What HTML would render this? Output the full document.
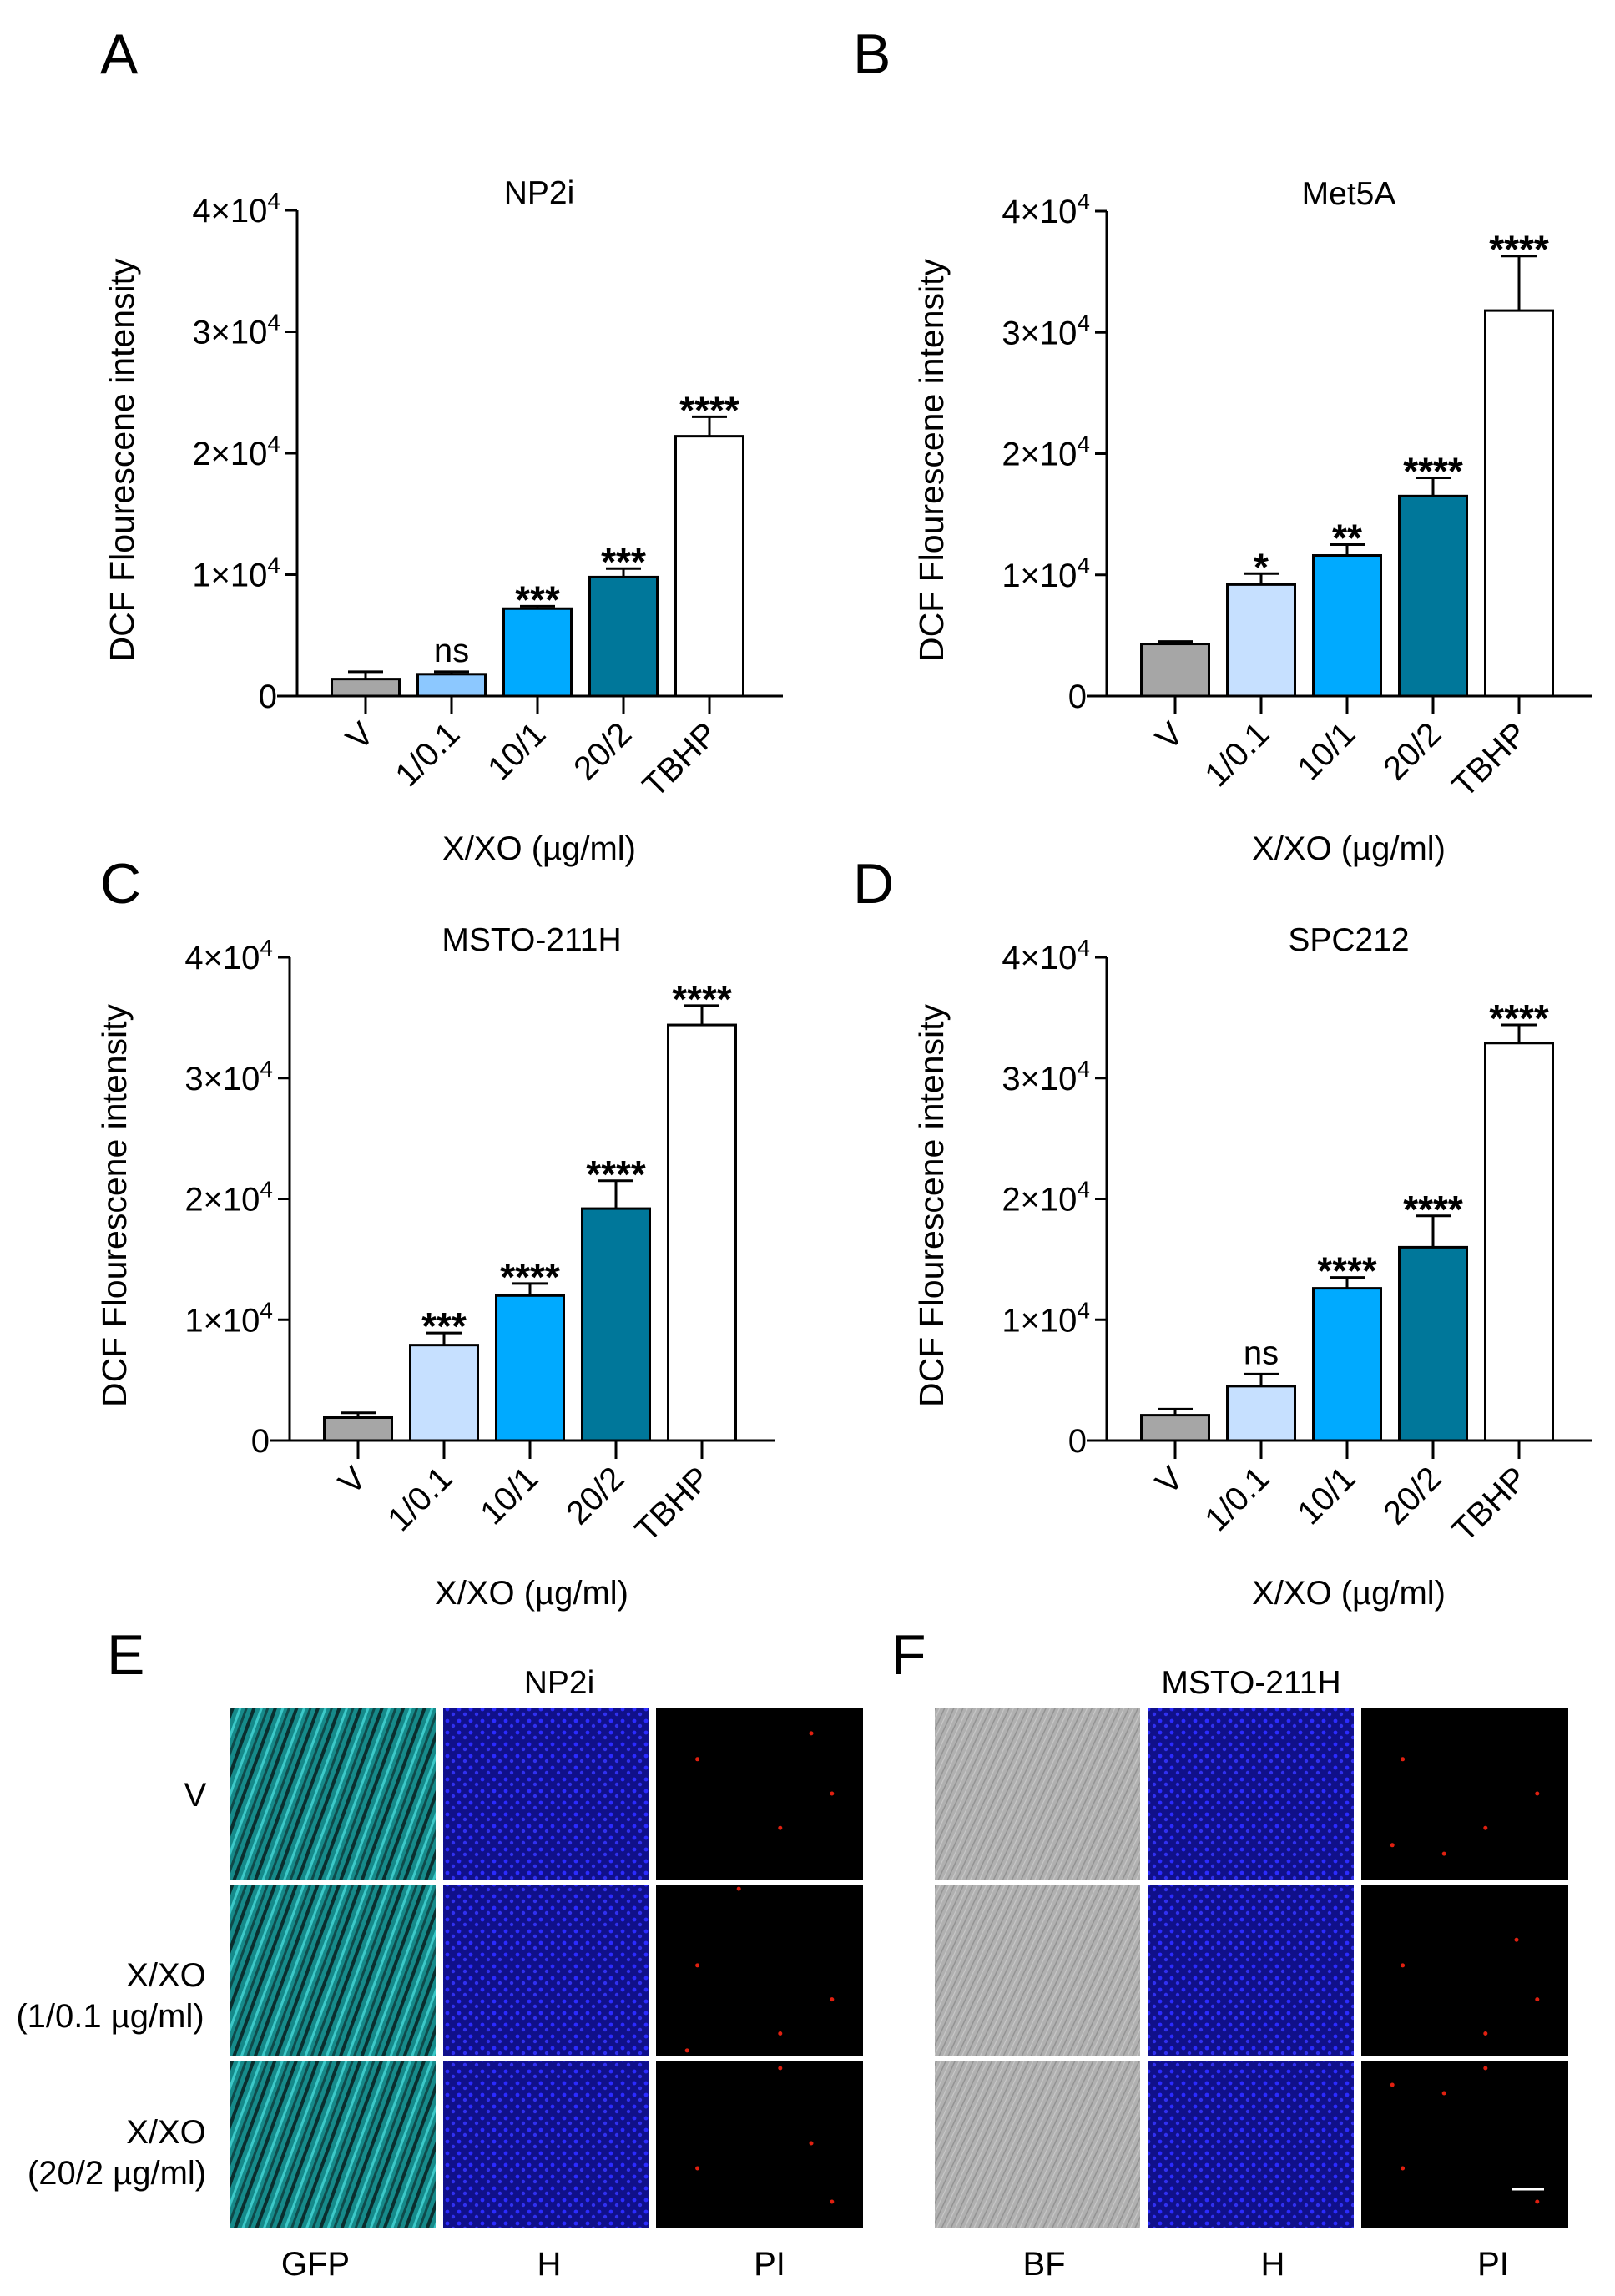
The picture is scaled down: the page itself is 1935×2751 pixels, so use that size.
<!DOCTYPE html>
<html><head><meta charset="utf-8">
<style>
html,body{margin:0;padding:0;background:#fff;}
svg{display:block;font-family:"Liberation Sans",Arial,sans-serif;}
</style></head>
<body>
<svg id="fig" width="1935" height="2751" viewBox="0 0 1935 2751" xmlns="http://www.w3.org/2000/svg">
<defs>
<pattern id="pCyan" width="24" height="24" patternUnits="userSpaceOnUse" patternTransform="rotate(-70)">
<rect width="24" height="24" fill="#168a8a"/>
<rect x="0" y="0" width="24" height="4" fill="#0a2e2e"/>
<rect x="0" y="9" width="24" height="3" fill="#3cc8c8"/>
<rect x="0" y="16" width="24" height="3" fill="#0f4a4a"/>
</pattern>
<pattern id="pBlue" width="14" height="14" patternUnits="userSpaceOnUse">
<rect width="14" height="14" fill="#10108a"/>
<circle cx="4" cy="4" r="2.4" fill="#2b2bff"/>
<circle cx="11" cy="10" r="2.2" fill="#3030f0"/>
</pattern>
<pattern id="pGray" width="10" height="10" patternUnits="userSpaceOnUse" patternTransform="rotate(-65)">
<rect width="10" height="10" fill="#b0b0b0"/>
<rect x="0" y="0" width="10" height="1.5" fill="#939393"/>
<rect x="0" y="5" width="10" height="1.2" fill="#c8c8c8"/>
</pattern>
</defs>
<g id="charts"></g>
<g id="micro"></g>
</svg>
<script>
const NS="http://www.w3.org/2000/svg";
const categories=["V","1/0.1","10/1","20/2","TBHP"];
const titles=["NP2i","Met5A","MSTO-211H","SPC212"];
const valuesA=[1400,1800,7200,9800,21400];
const errA=[2000,2000,7400,10500,23000];
const starsA=["","ns","***","***","****"];
const valuesB=[4300,9200,11600,16500,31800];
const errB=[4500,10100,12500,18000,36300];
const starsB=["","*","**","****","****"];
const valuesC=[1900,7900,12000,19200,34400];
const errC=[2300,8900,13000,21500,36000];
const starsC=["","***","****","****","****"];
const valuesD=[2100,4500,12600,16000,32900];
const errD=[2600,5500,13500,18600,34400];
const starsD=["","ns","****","****","****"];
const yTicks=[0,10000,20000,30000,40000];
const yTickMant=["0","1","2","3","4"];
const panelLetters=["A","B","C","D"];

const panels=[
 {ax:356,top:252,bot:834,colors:["#a6a6a6","#8cc8ff","#00aaff","#00779a","#ffffff"],v:valuesA,e:errA,s:starsA},
 {ax:1326,top:253,bot:834,colors:["#a6a6a6","#c6e0ff","#00aaff","#00779a","#ffffff"],v:valuesB,e:errB,s:starsB},
 {ax:347,top:1147,bot:1726,colors:["#a6a6a6","#c6e0ff","#00aaff","#00779a","#ffffff"],v:valuesC,e:errC,s:starsC},
 {ax:1326,top:1147,bot:1726,colors:["#a6a6a6","#c6e0ff","#00aaff","#00779a","#ffffff"],v:valuesD,e:errD,s:starsD}
];
const letterPos=[[120,88],[1022,88],[120,1082],[1022,1082]];
const root=document.getElementById('charts');
function mk(tag,attrs,parent){const el=document.createElementNS(NS,tag);for(const k in attrs)el.setAttribute(k,attrs[k]);(parent||root).appendChild(el);return el;}

panels.forEach((p,pi)=>{
 const g=mk('g',{});
 
 
 const y=v=>p.bot-(v/40000)*(p.bot-p.top);
 const x=i=>p.ax+82+i*103;
 const bw=81;
 const L=mk('text',{x:letterPos[pi][0],y:letterPos[pi][1],'font-size':68},g);L.textContent=panelLetters[pi];
 
 const t=mk('text',{x:p.ax+290,y:p.top-8,'font-size':39,'text-anchor':'middle'},g);t.textContent=titles[pi];
 
 mk('line',{x1:p.ax,y1:p.top,x2:p.ax,y2:p.bot,stroke:'#000','stroke-width':3},g);
 mk('line',{x1:p.ax-24,y1:p.bot,x2:p.ax+582,y2:p.bot,stroke:'#000','stroke-width':3},g);
 yTicks.forEach((tv,ti)=>{
  mk('line',{x1:p.ax-14,y1:y(tv),x2:p.ax,y2:y(tv),stroke:'#000','stroke-width':3},g);
  const tl=mk('text',{x:p.ax-24,y:y(tv)+14,'font-size':40,'text-anchor':'end'},g);
  
  if(tv===0){tl.textContent='0';}else{
   const a=document.createElementNS(NS,'tspan');a.textContent=yTickMant[ti]+'×10';tl.appendChild(a);
   const b=document.createElementNS(NS,'tspan');b.setAttribute('dy','-16');b.setAttribute('font-size','28');b.textContent='4';tl.appendChild(b);
   tl.setAttribute('x',p.ax-20);
  }
 });
 const yt=mk('text',{transform:`translate(${p.ax-196},${(p.top+p.bot)/2+8}) rotate(-90)`,'font-size':41,'text-anchor':'middle'},g);
 yt.textContent='DCF Flourescene intensity';
 
 const xt=mk('text',{x:p.ax+290,y:p.bot+196,'font-size':40,'text-anchor':'middle'},g);
 xt.textContent='X/XO (µg/ml)';
 
 categories.forEach((c,i)=>{
  const cx=x(i);
  const eb=mk('g',{},g);
  
  mk('line',{x1:cx,y1:y(p.v[i]),x2:cx,y2:y(p.e[i]),stroke:'#000','stroke-width':3},eb);
  mk('line',{x1:cx-21,y1:y(p.e[i]),x2:cx+21,y2:y(p.e[i]),stroke:'#000','stroke-width':3},eb);
  const r=mk('rect',{x:cx-bw/2,y:y(p.v[i]),width:bw,height:p.bot-y(p.v[i]),fill:p.colors[i],stroke:'#000','stroke-width':3},g);
  
  
  mk('line',{x1:cx,y1:p.bot,x2:cx,y2:p.bot+22,stroke:'#000','stroke-width':3},g);
  if(p.s[i]){
   const ns=p.s[i]==='ns';
   const st=mk('text',{x:cx,y:y(p.e[i])-(ns?12:-8),'font-size':ns?40:46,'text-anchor':'middle','font-weight':ns?'normal':'bold'},g);
   st.textContent=p.s[i];
   
  }
  const xl=mk('text',{transform:`translate(${cx+12},${p.bot+48}) rotate(-45)`,'font-size':40,'text-anchor':'end'},g);
  xl.textContent=c;
  
 });
});

const mg=document.getElementById('micro');
function txt(x,y,s,size,anchor,name){const t=mk('text',{x:x,y:y,'font-size':size,'text-anchor':anchor||'middle'},mg);t.textContent=s;return t;}
txt(128,2006,'E',68,'start','panel-label');
txt(1068,2006,'F',68,'start','panel-label');
txt(670,2029,'NP2i',39,'middle','image-title');
txt(1499,2029,'MSTO-211H',39,'middle','image-title');
const rowsY=[[2046,2252],[2259,2463],[2470,2670]];
const eCols=[[276,522,'pCyan'],[531,777,'pBlue'],[786,1034,'#000']];
const fCols=[[1120,1366,'pGray'],[1375,1622,'pBlue'],[1631,1879,'#000']];
const redDots=[[0.2,0.3],[0.6,0.7],[0.85,0.5],[0.4,0.85],[0.75,0.15],[0.15,0.8]];
[eCols,fCols].forEach((cols,ci)=>{
 rowsY.forEach((ry,ri)=>{
  cols.forEach((cc,k)=>{
   const fill=cc[2].startsWith('#')?cc[2]:`url(#${cc[2]})`;
   const r=mk('rect',{x:cc[0],y:ry[0],width:cc[1]-cc[0],height:ry[1]-ry[0],fill:fill},mg);
   
   if(k===2){redDots.forEach((d,di)=>{if((di+ri+ci)%2===0||di<3)mk('circle',{cx:cc[0]+d[0]*(cc[1]-cc[0]),cy:ry[0]+((d[1]+ri*0.17)%1)*(ry[1]-ry[0]),r:2.5,fill:'#e02010'},mg);});}
  });
 });
});
mk('line',{x1:1812,y1:2623,x2:1850,y2:2623,stroke:'#fff','stroke-width':3},mg);
txt(234,2164,'V',40,'middle','row-label');
txt(199,2380,'X/XO',40,'middle','row-label');
txt(132,2429,'(1/0.1 µg/ml)',40,'middle','row-label');
txt(199,2568,'X/XO',40,'middle','row-label');
txt(140,2617,'(20/2 µg/ml)',40,'middle','row-label');
[['GFP',378],['H',658],['PI',922],['BF',1251],['H',1525],['PI',1789]].forEach(a=>txt(a[1],2726,a[0],40,'middle','column-label'));
</script>
</body></html>
